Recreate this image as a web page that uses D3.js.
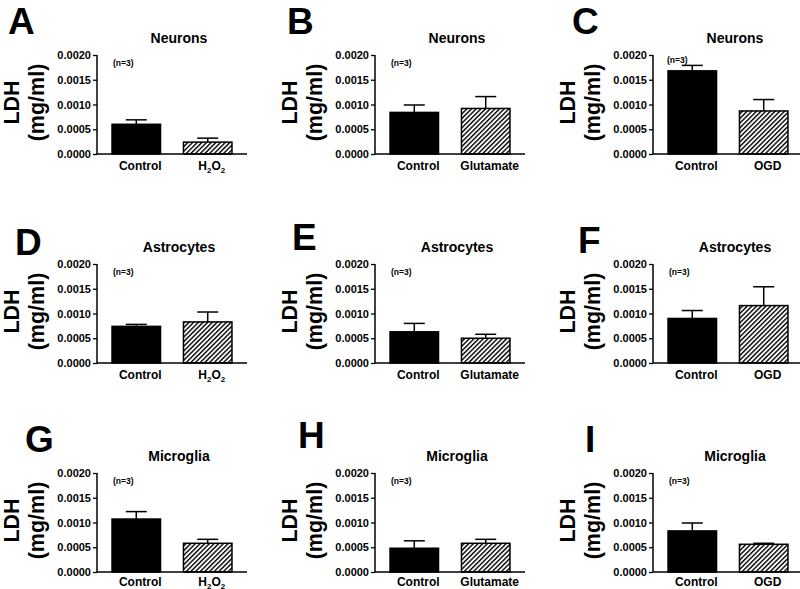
<!DOCTYPE html>
<html>
<head>
<meta charset="utf-8">
<script src="https://cdn.jsdelivr.net/npm/d3@7/dist/d3.min.js"></script>
<style>
  html, body { margin: 0; padding: 0; background: #fff; }
  svg { display: block; font-family: "Liberation Sans", Arial, Helvetica, sans-serif; }
</style>
</head>
<body>
<svg id="chart" width="800" height="589"></svg>
<script>
// ---- Data ----
const panelLabels = ["A", "B", "C", "D", "E", "F", "G", "H", "I"];
const cellTypes   = ["Neurons", "Neurons", "Neurons",
                     "Astrocytes", "Astrocytes", "Astrocytes",
                     "Microglia", "Microglia", "Microglia"];
const treatments  = ["H2O2", "Glutamate", "OGD",
                     "H2O2", "Glutamate", "OGD",
                     "H2O2", "Glutamate", "OGD"];
const controlMeans = [0.00060, 0.00084, 0.00168, 0.00074, 0.00063, 0.00090, 0.00107, 0.00048, 0.00083];
const controlSEM   = [0.00009, 0.00015, 0.00011, 0.00004, 0.00017, 0.00016, 0.00015, 0.00015, 0.00016];
const treatMeans   = [0.00024, 0.00092, 0.00087, 0.00083, 0.00050, 0.00116, 0.00058, 0.00058, 0.00056];
const treatSEM     = [0.00008, 0.00024, 0.00023, 0.00020, 0.00008, 0.00038, 0.00008, 0.00008, 0.00002];
const yTicks = [0, 0.0005, 0.0010, 0.0015, 0.0020];
const nLabel = "(n=3)";
const yTitle = ["LDH", "(mg/ml)"];

// ---- Layout ----
const colX = [97, 375, 653];
const rowTop = [55, 264, 473];
const plotW = 150, plotH = 99;
const letterPos = [[8, 34], [287, 33.5], [572, 34], [15, 255], [292, 250], [578, 253], [25, 452], [298, 448], [585, 452]];

const svg = d3.select("#chart");
const defs = svg.append("defs");
const pat = defs.append("pattern")
  .attr("id", "hatch")
  .attr("patternUnits", "userSpaceOnUse")
  .attr("width", 3.3).attr("height", 3.3)
  .attr("patternTransform", "rotate(45)");
pat.append("rect").attr("width", 3.3).attr("height", 3.3).attr("fill", "#fff");
pat.append("line").attr("x1", 0.7).attr("y1", 0).attr("x2", 0.7).attr("y2", 3.3)
  .attr("stroke", "#000").attr("stroke-width", 1.4);

panelLabels.forEach((lab, i) => {
  const col = i % 3, row = Math.floor(i / 3);
  const x0 = colX[col], y0 = rowTop[row];
  const g = svg.append("g").attr("transform", `translate(${x0},${y0})`);

  const y = d3.scaleLinear().domain([0, 0.002]).range([plotH, 0]);
  const cats = ["Control", treatments[i]];
  const x = d3.scaleBand().domain(cats).range([0, plotW]).paddingInner(0.3).paddingOuter(0.2);

  const data = [
    { cat: "Control", mean: controlMeans[i], sem: controlSEM[i], fill: "#000" },
    { cat: treatments[i], mean: treatMeans[i], sem: treatSEM[i], fill: "url(#hatch)" }
  ];

  // error bars (upper only)
  data.forEach(d => {
    const cx = x(d.cat) + x.bandwidth() / 2;
    const capW = x.bandwidth() * 0.42;
    g.append("line").attr("x1", cx).attr("x2", cx)
      .attr("y1", y(d.mean)).attr("y2", y(d.mean + d.sem))
      .attr("stroke", "#000").attr("stroke-width", 1.5);
    g.append("line").attr("x1", cx - capW / 2).attr("x2", cx + capW / 2)
      .attr("y1", y(d.mean + d.sem)).attr("y2", y(d.mean + d.sem))
      .attr("stroke", "#000").attr("stroke-width", 1.5);
  });

  // bars
  g.selectAll("rect.bar").data(data).enter().append("rect")
    .attr("class", "bar")
    .attr("x", d => x(d.cat) + 0.75)
    .attr("width", x.bandwidth() - 1.5)
    .attr("y", d => y(d.mean))
    .attr("height", d => y(0) - y(d.mean))
    .attr("fill", d => d.fill)
    .attr("stroke", "#000").attr("stroke-width", 1.5);

  // y axis
  const yAxis = d3.axisLeft(y).tickValues(yTicks).tickFormat(d3.format(".4f")).tickSize(4).tickPadding(2);
  const ya = g.append("g").call(yAxis);
  ya.select(".domain").attr("stroke-width", 1.5).attr("d", `M0,${plotH}V0`);
  ya.selectAll(".tick line").attr("stroke-width", 1.3);
  ya.selectAll(".tick text").attr("font-size", 11).attr("font-weight", "bold")
    .attr("font-family", "'Liberation Sans', Arial, sans-serif").attr("fill", "#000");

  // x axis line
  const xAxis = d3.axisBottom(x).tickSize(0).tickPadding(8);
  const xa = g.append("g").attr("transform", `translate(0,${plotH})`).call(xAxis);
  xa.select(".domain").attr("stroke-width", 1.5).attr("d", `M0,0H${plotW}`);
  xa.selectAll(".tick text").remove();

  // category labels
  cats.forEach(c => {
    const t = g.append("text")
      .attr("x", x(c) + x.bandwidth() / 2 + 4)
      .attr("y", plotH + (row === 2 ? 14 : 16))
      .attr("text-anchor", "middle")
      .attr("font-size", 12).attr("font-weight", "bold").attr("fill", "#000");
    if (c === "H2O2") {
      t.append("tspan").text("H");
      t.append("tspan").text("2").attr("font-size", 8).attr("dy", 2.5);
      t.append("tspan").text("O").attr("dy", -2.5);
      t.append("tspan").text("2").attr("font-size", 8).attr("dy", 2.5);
    } else {
      t.text(c);
    }
  });

  // title
  g.append("text").attr("x", 82).attr("y", -12)
    .attr("text-anchor", "middle").attr("font-size", 14).attr("font-weight", "bold")
    .text(cellTypes[i]);

  // n label
  const nTight = controlMeans[i] + controlSEM[i] > 0.0016;
  g.append("text").attr("x", nTight ? 14 : 16).attr("y", nTight ? 8 : 11)
    .attr("font-size", 8.5).attr("font-weight", "bold").text(nLabel);

  // y title
  const cy = plotH / 2 - 2;
  g.append("text").attr("transform", `translate(-78,${cy}) rotate(-90)`)
    .attr("text-anchor", "middle").attr("font-size", 21.5).attr("font-weight", "bold")
    .text(yTitle[0]);
  g.append("text").attr("transform", `translate(-53,${cy}) rotate(-90)`)
    .attr("text-anchor", "middle").attr("font-size", 21.5).attr("font-weight", "bold")
    .text(yTitle[1]);

  // panel letter
  svg.append("text").attr("x", letterPos[i][0]).attr("y", letterPos[i][1])
    .attr("font-size", 37).attr("font-weight", "bold").text(lab);
});
</script>
</body>
</html>
